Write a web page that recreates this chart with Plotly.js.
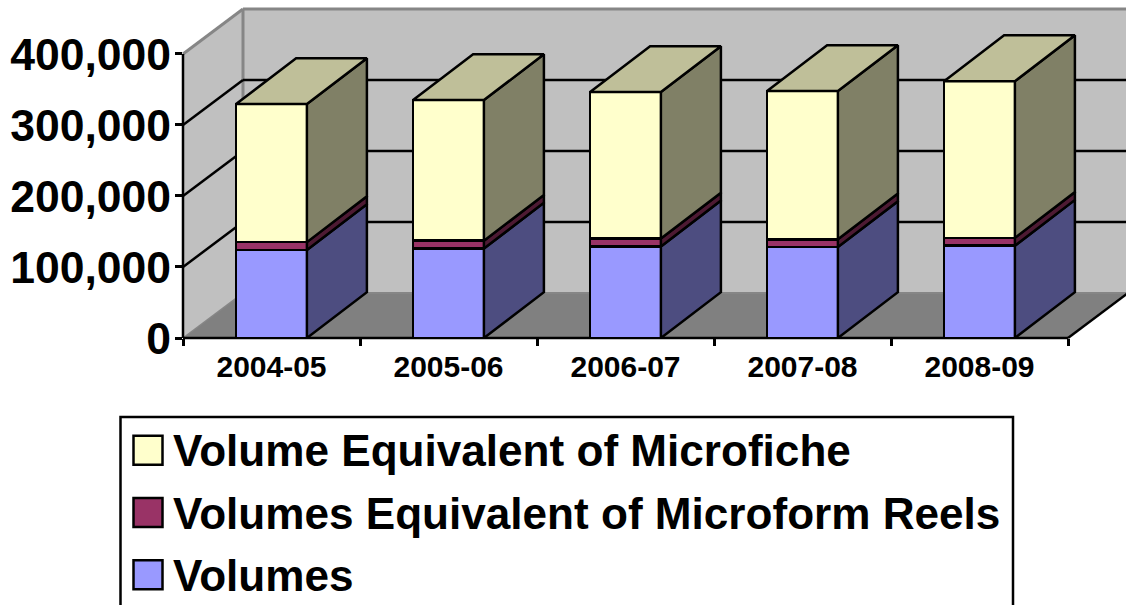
<!DOCTYPE html>
<html>
<head>
<meta charset="utf-8">
<script src="https://cdn.plot.ly/plotly-3.0.1.min.js"></script>
<style>html,body{margin:0;padding:0;background:#fff;overflow:hidden}</style>
</head>
<body>
<div id="chart" style="width:1126px;height:605px"></div>
<script>
const categories = ['2004-05','2005-06','2006-07','2007-08','2008-09'];
const volumes = [124000,126000,129000,128000,130000];
const reels = [11000,11000,11000,11000,11000];
const fiche = [194400,198000,206300,208700,220700];
const seriesNames = ['Volumes','Volumes Equivalent of Microform Reels','Volume Equivalent of Microfiche'];
const frontColors = ['#9999FF','#993366','#FFFFCC'];
const sideColors = ['#4D4D80','#4D1A33','#808066'];
const topColor = '#BFBF99';
const yTicks = [0,100000,200000,300000,400000];

const FONT = 'Liberation Sans, Arial, sans-serif';
const W = 1126, H = 605, L = 183, T = 8.5, B = 338;
const STEP = 177, BAR = 0.4;
const DX = 60/STEP, DY = 63300, BAR_DY = 64500;
const X0 = -0.5, X1 = categories.length - 0.5;
const XMAX = X0 + (W-L)/STEP, YMAX = 400000 + DY;
const xs = categories.map((_,i)=>i);
const values = [volumes,reels,fiche];
const LW = 2.5;

const traces = [];
values.forEach((v,s)=>traces.push({
  type:'bar', x:xs, y:v, name:seriesNames[s], width:BAR, cliponaxis:false,
  marker:{color:frontColors[s], line:{color:'#000',width:LW}}, showlegend:false, hoverinfo:'name+y'
}));
const poly = (pts,fill)=>({
  type:'scatter', mode:'lines', x:pts.map(p=>p?p[0]:null), y:pts.map(p=>p?p[1]:null),
  fill:'toself', fillcolor:fill, line:{color:'#000',width:LW,shape:'linear'},
  cliponaxis:false, showlegend:false, hoverinfo:'skip'
});
let base = xs.map(()=>0);
values.forEach((v,s)=>{
  let pts=[];
  xs.forEach(i=>{
    const r=i+BAR/2, lo=base[i], hi=base[i]+v[i];
    pts.push([r,lo],[r+DX,lo+BAR_DY],[r+DX,hi+BAR_DY],[r,hi],[r,lo],null);
  });
  traces.push(poly(pts,sideColors[s]));
  base = base.map((b,i)=>b+v[i]);
});
let topPts=[];
xs.forEach(i=>{
  const a=i-BAR/2,b=i+BAR/2,h=base[i];
  topPts.push([a,h],[b,h],[b+DX,h+BAR_DY],[a+DX,h+BAR_DY],[a,h],null);
});
traces.push(poly(topPts,topColor));

// Paper-referenced conversions so that strokes on the plot edge are not clipped
const fx=x=>(x-X0)/(XMAX-X0), fy=y=>y/YMAX;
const line=(x0,y0,x1,y1,color,width)=>({type:'line',layer:'below',xref:'paper',yref:'paper',
  x0:fx(x0),y0:fy(y0),x1:fx(x1),y1:fy(y1),line:{color,width}});
const path=(pts,fill)=>({type:'path',layer:'below',xref:'paper',yref:'paper',
  path:pts.map((p,i)=>(i?'L':'M')+fx(p[0])+','+fy(p[1])).join(' ')+' Z',fillcolor:fill,line:{width:0}});
const WALL='#C0C0C0', FLOOR='#808080', EDGE='#868686';
const shapes=[
  path([[X0+DX,DY],[XMAX,DY],[XMAX,YMAX],[X0+DX,YMAX]],WALL),
  path([[X0,0],[X0+DX,DY],[X0+DX,YMAX],[X0,400000]],WALL),
  path([[X0,0],[X1,0],[X1+DX,DY],[X0+DX,DY]],FLOOR),
  line(X0+DX,DY,XMAX,DY,EDGE,2),
  line(X0+DX,DY,X0+DX,YMAX,EDGE,3),
  line(X0+DX,YMAX,XMAX,YMAX,EDGE,3),
  line(X0,400000,X0+DX,YMAX,EDGE,3),
  line(X0,0,X0+DX,DY,EDGE,1.5)
];
yTicks.filter(t=>t>0&&t<400000).forEach(t=>{
  shapes.push(line(X0,t,X0+DX,t+DY,'#000',LW));
  shapes.push(line(X0+DX,t+DY,XMAX,t+DY,'#000',LW));
});
shapes.push(line(X1,0,X1+DX,DY,'#000',LW));
shapes.push(line(X0,0,X0,400000,'#000',LW));
shapes.push(line(X0,0,X1,0,'#000',LW));

// Legend, in page pixels converted to paper coordinates
const px=x=>(x-L)/(W-L), py=y=>(B-y)/(B-T);
const annotations=[];
shapes.push({type:'rect',layer:'above',xref:'paper',yref:'paper',x0:px(120.5),x1:px(1013),y0:py(417),y1:py(640),
  fillcolor:'rgba(0,0,0,0)',line:{color:'#000',width:2.5}});
[2,1,0].forEach((s,row)=>{
  const top=436+row*62.3;
  shapes.push({type:'rect',layer:'above',xref:'paper',yref:'paper',x0:px(133.5),x1:px(162.5),y0:py(top),y1:py(top+29),
    fillcolor:frontColors[s],line:{color:'#000',width:LW}});
  annotations.push({xref:'paper',yref:'paper',x:px(174),y:py(top+15),xanchor:'left',yanchor:'middle',showarrow:false,
    xshift:-1,borderpad:0,borderwidth:0,text:'<b>'+seriesNames[s]+'</b>',font:{family:FONT,size:44.1,color:'#000'}});
});

const layout={
  width:W,height:H,autosize:false,showlegend:false,barmode:'stack',bargap:0.6,
  paper_bgcolor:'#fff',plot_bgcolor:'rgba(0,0,0,0)',
  margin:{l:L,r:0,t:T,b:H-B,pad:0},
  xaxis:{type:'linear',range:[X0,XMAX],tickmode:'array',tickvals:xs,ticktext:categories,ticks:'',
    showgrid:false,zeroline:false,showline:false,fixedrange:true,automargin:false,
    tickfont:{family:FONT,size:30,color:'#000',weight:700},ticklabelstandoff:8,
    minor:{tickmode:'array',tickvals:categories.map((_,i)=>i-0.5).concat(X1),ticks:'outside',ticklen:7,tickwidth:LW,tickcolor:'#000',showgrid:false}},
  yaxis:{type:'linear',range:[0,YMAX],tickmode:'array',tickvals:yTicks,tickformat:',d',ticks:'outside',ticklen:7,tickwidth:LW,tickcolor:'#000',
    showgrid:false,zeroline:false,showline:false,fixedrange:true,automargin:false,ticklabelstandoff:-5,
    tickfont:{family:FONT,size:44.5,color:'#000',weight:700}},
  shapes,annotations
};
Plotly.newPlot('chart',traces,layout,{displayModeBar:false,responsive:false});
</script>
</body>
</html>
